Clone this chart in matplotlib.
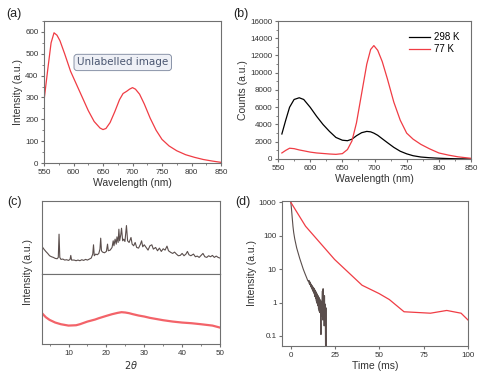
import matplotlib
matplotlib.use("Agg")
from matplotlib import pyplot as plt
import matplotlib.ticker as tck

plt.rcParams.update({
    "font.family": ["Liberation Sans", "DejaVu Sans"],
    "font.size": 6,
    "axes.edgecolor": "#707070",
    "axes.linewidth": 0.8,
    "xtick.color": "#707070",
    "ytick.color": "#707070",
    "xtick.labelcolor": "#333333",
    "ytick.labelcolor": "#333333",
    "xtick.labelsize": 5.8,
    "ytick.labelsize": 5.8,
    "xtick.major.size": 2.5,
    "ytick.major.size": 2.5,
    "xtick.minor.size": 1.5,
    "ytick.minor.size": 1.5,
    "xtick.major.pad": 1.5,
    "ytick.major.pad": 1.5,
    "axes.labelsize": 7.5,
    "axes.labelcolor": "#333333",
    "axes.labelpad": 1.5,
})

RED = "#f03c44"
DARK = "#5a4e4c"

# (a) emission spectrum
wl_a = [550, 556, 562, 567, 572, 577, 585, 595, 605, 615, 625, 635, 645, 650, 655,
        662, 670, 678, 684, 690, 695, 700, 705, 712, 720, 730, 740, 750, 762, 775,
        790, 805, 820, 835, 850]
int_a = [285, 420, 550, 596, 585, 560, 500, 420, 360, 300, 240, 190, 160, 153, 158,
         185, 235, 290, 318, 328, 338, 345, 338, 315, 270, 205, 150, 108, 78, 56,
         38, 26, 16, 9, 3]

# (b) temperature dependent spectra
wl_b = [556, 562, 568, 575, 583, 590, 600, 610, 620, 630, 640, 650, 658, 665, 672,
        680, 688, 694, 699, 705, 712, 720, 730, 740, 750, 760, 772, 785, 800, 815,
        830, 850]
cnt_298 = [2900, 4500, 6000, 6900, 7100, 6900, 6000, 4950, 4000, 3200, 2500, 2180,
           2120, 2300, 2700, 3050, 3200, 3150, 3000, 2750, 2350, 1900, 1350, 900,
           600, 380, 230, 150, 90, 50, 25, 10]
cnt_77 = [700, 1000, 1250, 1200, 1050, 950, 800, 700, 640, 580, 540, 620, 1100,
          2100, 4200, 7600, 11000, 12700, 13150, 12600, 11300, 9300, 6600, 4500,
          3000, 2300, 1700, 1200, 700, 450, 250, 80]

# (c) XRD patterns
tt_top = [3.0, 3.5, 4.0, 4.5, 5.0, 5.5, 6.0, 6.5, 7.0, 7.3, 7.5, 7.7, 8.0, 8.5, 9.0,
          9.5, 10.0, 10.4, 10.6, 10.8, 11.5, 12.0, 12.5, 13.0, 13.5, 14.0, 14.5,
          15.0, 15.5, 16.0, 16.4, 16.6, 16.8, 17.2, 17.6, 18.0, 18.3, 18.5, 18.7,
          19.0, 19.5, 20.0, 20.3, 20.5, 21.0, 21.5, 21.8, 22.0, 22.3, 22.6, 22.8,
          23.1, 23.3, 23.5, 23.8, 24.0, 24.3, 24.6, 24.9, 25.3, 25.6, 26.0, 26.5,
          26.8, 27.2, 27.6, 28.0, 28.5, 29.0, 29.3, 29.6, 30.0, 30.5, 31.0, 31.5,
          32.0, 32.4, 33.0, 33.5, 34.0, 34.5, 35.0, 35.5, 36.0, 36.4, 37.0, 37.5,
          38.0, 38.5, 39.0, 39.5, 40.0, 40.5, 41.0, 41.4, 41.8, 42.3, 43.0, 43.5,
          44.0, 44.5, 45.0, 45.5, 46.0, 46.5, 47.0, 47.5, 48.0, 48.5, 49.0, 49.5,
          50.0]
int_top = [83, 75, 68, 62, 55, 52, 50, 47, 46, 50, 120, 50, 44, 45, 42,
           43, 41, 44, 56, 42, 42, 40, 42, 40, 43, 41, 44,
           42, 45, 48, 60, 88, 55, 60, 58, 62, 75, 108, 70,
           66, 64, 68, 90, 70, 72, 80, 100, 85, 105, 90, 112,
           95, 135, 100, 118, 138, 100, 105, 98, 146, 100, 95, 110,
           90, 85, 95, 80, 78, 90, 100, 82, 88, 80, 72, 85,
           88, 75, 80, 70, 78, 68, 76, 72, 84, 70, 65, 62,
           66, 60, 55, 56, 62, 55, 60, 68, 58, 55, 60, 52,
           54, 50, 56, 62, 52, 50, 55, 52, 56, 50, 54, 50,
           48]
tt_bot = [3, 4, 5, 6.5, 8, 10, 12, 13, 15, 17, 18, 20, 21.5, 23, 24, 25, 26, 27,
          28.5, 30, 31.5, 33, 35, 37.5, 40, 42.5, 45, 48, 50]
int_bot = [92, 80, 72, 64, 59, 55, 56, 59, 67, 73, 77, 84, 89, 93, 95, 94, 92, 89,
           85, 82, 78, 75, 71, 67, 64, 62, 59, 55, 49]

# (d) decay curves
t_fast = [0, 0.4, 0.8, 1.2, 1.6, 2.2, 2.8, 3.3, 4, 5, 6, 7, 8, 9, 9.5,
          10.0, 10.2, 10.4, 10.6, 10.8, 11.0, 11.2, 11.4, 11.6, 11.8, 12.0, 12.2,
          12.4, 12.6, 12.8, 13.0, 13.2, 13.4, 13.6, 13.8, 14.0, 14.2, 14.4, 14.6,
          14.8, 15.0, 15.2, 15.4, 15.6, 15.8, 16.0, 16.2, 16.4, 16.6, 16.8, 17.0,
          17.2, 17.4, 17.6, 17.8, 18.0, 18.2, 18.4, 18.6, 18.8, 19.0, 19.2, 19.4,
          19.6, 19.8, 20.0]
i_fast = [1000, 600, 330, 190, 125, 80, 57, 43, 32, 21, 14.5, 10, 7.3, 5.4, 4.6,
          4.2, 4.6, 3.7, 4.3, 3.4, 3.9, 3.0, 3.6, 2.8, 3.3, 2.5, 3.1,
          2.2, 2.9, 2.0, 2.7, 1.8, 2.5, 1.5, 2.3, 1.3, 2.1, 1.1, 1.9,
          0.95, 1.7, 0.8, 1.6, 0.65, 1.45, 0.55, 1.3, 0.5, 1.2, 0.4, 0.11,
          1.1, 0.4, 1.0, 2.2, 0.3, 2.6, 0.35, 1.4, 0.2, 1.6, 0.25, 0.9,
          0.03, 0.7, 0.03]
t_slow = [0, 8.3, 24.7, 40.2, 49.8, 55.6, 63.9, 78.8, 88, 96.1, 100]
i_slow = [1000, 193, 19.5, 3.3, 1.86, 1.23, 0.53, 0.48, 0.58, 0.48, 0.30]

W, H = 481, 375
fig = plt.figure(figsize=(W / 100, H / 100), dpi=100)


def box(l, r, t, b):
    return [l / W, 1 - b / H, (r - l) / W, (b - t) / H]


# --- (a)
ax = fig.add_axes(box(44, 221, 21, 163))
ax.plot(wl_a, int_a, color=RED, lw=0.9)
ax.set_xlim(550, 850)
ax.set_ylim(0, 650)
ax.set_xticks(range(550, 851, 50))
ax.set_yticks(range(0, 601, 100))
ax.xaxis.set_minor_locator(tck.AutoMinorLocator(2))
ax.yaxis.set_minor_locator(tck.AutoMinorLocator(2))
ax.set_xlabel("Wavelength (nm)")
ax.set_ylabel("Intensity (a.u.)")
ax.text(0.445, 0.708, "Unlabelled image", transform=ax.transAxes,
        ha="center", va="center", fontsize=7.5, family="DejaVu Sans",
        color="#4a5670",
        bbox=dict(boxstyle="round,pad=0.3,rounding_size=0.3",
                  fc="#eef0f6", ec="#8a94a8", lw=0.7))

# --- (b)
ax = fig.add_axes(box(278, 471, 21, 159))
ax.plot(wl_b, cnt_298, color="black", lw=0.9, label="298 K")
ax.plot(wl_b, cnt_77, color=RED, lw=0.9, label="77 K")
ax.set_xlim(550, 850)
ax.set_ylim(0, 16000)
ax.set_xticks(range(550, 851, 50))
ax.set_yticks(range(0, 16001, 2000))
ax.xaxis.set_minor_locator(tck.AutoMinorLocator(2))
ax.yaxis.set_minor_locator(tck.AutoMinorLocator(2))
ax.set_xlabel("Wavelength (nm)")
ax.set_ylabel("Counts (a.u.)")
ax.legend(loc="upper right", frameon=False, fontsize=7, handlelength=2.2,
          handletextpad=0.4, labelspacing=0.2, bbox_to_anchor=(0.97, 0.96),
          borderaxespad=0.2)

# --- (c)
ax_t = fig.add_axes(box(42, 220, 201, 274))
ax_b = fig.add_axes(box(42, 220, 274, 344))
ax_t.plot(tt_top, int_top, color=DARK, lw=0.8)
ax_b.plot(tt_bot, int_bot, color=RED, lw=1.6, alpha=0.8)
for a in (ax_t, ax_b):
    a.set_xlim(3, 50)
    a.set_yticks([])
ax_t.set_ylim(0, 220)
ax_b.set_ylim(0, 209)
ax_t.tick_params(axis="x", bottom=False, labelbottom=False)
ax_b.set_xticks(range(10, 51, 10))
ax_b.xaxis.set_minor_locator(tck.MultipleLocator(5))
ax_b.set_xlabel(r"$2\theta$", fontsize=7)
fig.text(28 / W, 1 - 272 / H, "Intensity (a.u.)", rotation=90, ha="center",
         va="center", fontsize=7.5, color="#333333")

# --- (d)
ax = fig.add_axes(box(282, 468, 201, 346))
ax.semilogy(t_fast, i_fast, color=DARK, lw=0.8)
ax.semilogy(t_slow, i_slow, color=RED, lw=0.9)
ax.set_xlim(-5, 100)
ax.set_ylim(0.05, 1100)
ax.set_xticks(range(0, 101, 25))
ax.set_yticks([0.1, 1, 10, 100, 1000])
ax.set_yticklabels(["0.1", "1", "10", "100", "1000"])
ax.yaxis.set_minor_locator(tck.NullLocator())
ax.set_xlabel("Time (ms)")
ax.set_ylabel("Intensity (a.u.)")

# panel letters
for x, y, s in [(14, 14, "(a)"), (241, 14, "(b)"), (15, 202, "(c)"), (243, 202, "(d)")]:
    fig.text(x / W, 1 - y / H, s, ha="center", va="center", fontsize=9,
             color="#222222")

fig.savefig("out.png", dpi=100)
